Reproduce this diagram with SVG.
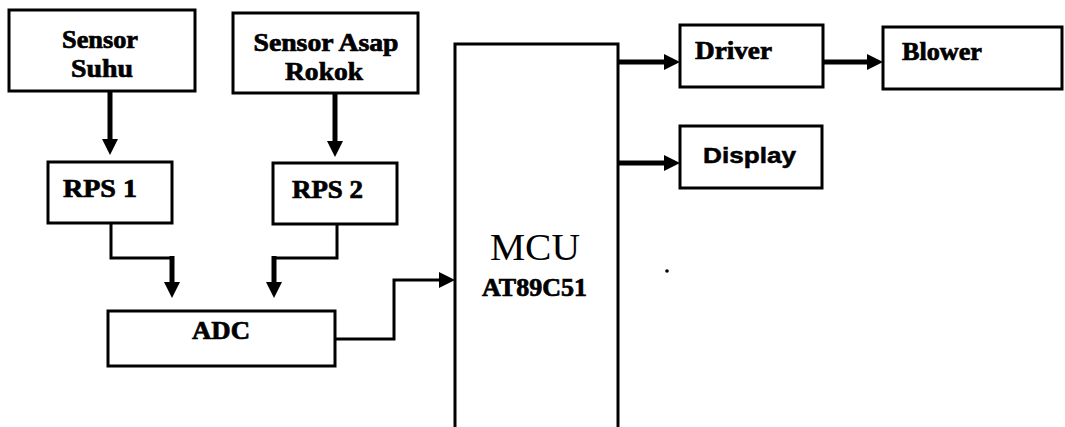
<svg xmlns="http://www.w3.org/2000/svg" width="1065" height="427" viewBox="0 0 1065 427">
<style>
.box{fill:#fff;stroke:#000;stroke-width:3}
.t{font-family:"Liberation Serif","Times New Roman",serif;font-weight:bold;font-size:25px;fill:#000;stroke:#000;stroke-width:0.7}
.s{font-family:"Liberation Sans",Arial,sans-serif;font-weight:bold;font-size:22px;fill:#000;stroke:#000;stroke-width:0.5}
.m{font-family:"Liberation Serif","Times New Roman",serif;font-size:38px;fill:#000}
.c{fill:none;stroke:#000;stroke-width:3}
.ck{fill:none;stroke:#000;stroke-width:5}
</style>
<defs>
<marker id="ah" markerUnits="userSpaceOnUse" markerWidth="18" markerHeight="18" refX="4" refY="8" orient="auto" viewBox="0 0 18 16">
<path d="M0,0 L16,8 L0,16 z" fill="#000"/>
</marker>
</defs>
<rect width="1065" height="427" fill="#fff"/>
<g id="sensor-suhu">
<rect class="box" x="9" y="10" width="186" height="81"/>
<text class="t" x="100" y="48" text-anchor="middle" textLength="76" lengthAdjust="spacingAndGlyphs">Sensor</text>
<text class="t" x="102" y="77" text-anchor="middle" textLength="62" lengthAdjust="spacingAndGlyphs">Suhu</text>
</g>
<g id="sensor-asap">
<rect class="box" x="233" y="13" width="185" height="80"/>
<text class="t" x="326" y="51" text-anchor="middle" textLength="145" lengthAdjust="spacingAndGlyphs">Sensor Asap</text>
<text class="t" x="324" y="80" text-anchor="middle" textLength="78" lengthAdjust="spacingAndGlyphs">Rokok</text>
</g>
<g id="rps1">
<rect class="box" x="48" y="162" width="124" height="61"/>
<text class="t" x="63" y="197" textLength="74" lengthAdjust="spacingAndGlyphs">RPS 1</text>
</g>
<g id="rps2">
<rect class="box" x="273" y="163" width="124" height="61"/>
<text class="t" x="292" y="198" textLength="71" lengthAdjust="spacingAndGlyphs">RPS 2</text>
</g>
<g id="adc">
<rect class="box" x="108" y="311" width="227" height="55"/>
<text class="t" x="192" y="339" textLength="58" lengthAdjust="spacingAndGlyphs">ADC</text>
</g>
<g id="mcu">
<rect class="box" x="455" y="44" width="163" height="400"/>
<text class="m" x="535" y="260" text-anchor="middle" textLength="90" lengthAdjust="spacingAndGlyphs">MCU</text>
<text class="t" x="482" y="296" textLength="105" lengthAdjust="spacingAndGlyphs">AT89C51</text>
</g>
<g id="driver">
<rect class="box" x="680" y="25" width="143" height="62"/>
<text class="t" x="695" y="59" textLength="77" lengthAdjust="spacingAndGlyphs">Driver</text>
</g>
<g id="blower">
<rect class="box" x="883" y="27" width="179" height="62"/>
<text class="t" x="902" y="60" textLength="80" lengthAdjust="spacingAndGlyphs">Blower</text>
</g>
<g id="display">
<rect class="box" x="680" y="126" width="142" height="62"/>
<text class="s" x="703" y="163" textLength="93" lengthAdjust="spacingAndGlyphs">Display</text>
</g>
<g id="connectors">
<path class="ck" d="M110,92 V143" marker-end="url(#ah)"/>
<path class="ck" d="M335,94 V145" marker-end="url(#ah)"/>
<path class="c" d="M111,224 V258 H172"/>
<path class="ck" d="M172,256 V286" marker-end="url(#ah)"/>
<path class="c" d="M337,225 V258 H274"/>
<path class="ck" d="M274,256 V286" marker-end="url(#ah)"/>
<path class="c" d="M336,339 H394 V280 H443" marker-end="url(#ah)"/>
<path class="ck" d="M619,62 H668" marker-end="url(#ah)"/>
<path class="ck" d="M619,163 H668" marker-end="url(#ah)"/>
<path class="ck" d="M824,62 H871" marker-end="url(#ah)"/>
</g>
<circle cx="667" cy="271" r="1.8" fill="#000"/>
</svg>
